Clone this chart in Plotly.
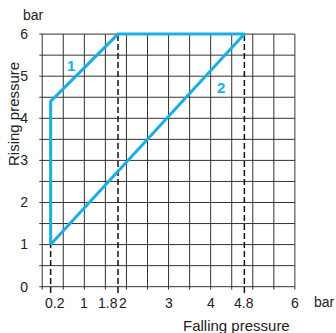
import plotly.graph_objects as go

# Data
curve_x = [0.2, 0.2, 1.8, 4.8, 0.2]
curve_y = [1.0, 4.4, 6.0, 6.0, 1.0]
dash_x = [0.2, 1.8, 4.8]
dash_top = [1.0, 6.0, 6.0]
x_tickvals = [0.2, 1, 1.8, 2, 3, 4, 4.8, 6]
x_ticktext = ["0.2", "1", "1.8", "2", "3", "4", "4.8", "6"]
y_tickvals = [0, 1, 2, 3, 4, 5, 6]
y_ticktext = ["0", "1", "2", "3", "4", "5", "6"]
curve_labels = ["1", "2"]
curve_label_x = [0.69, 4.24]
curve_label_y = [5.26, 4.74]

CYAN = "#1aade6"
GRID = "#333333"
TXT = "#222"
FONT = "Liberation Sans, Arial, sans-serif"
L, R, T, B = 38, 39, 32, 40
W, H = 336, 333

# hand-placed label nudges in the original (pixels), style only
label_shift = {"0.2": 4, "1.8": -10, "2": -3}

fig = go.Figure()

# grid (every 0.5)
steps = [i * 0.5 for i in range(13)]
gx, gy = [], []
for v in steps:
    gx += [v, v, None]
    gy += [-0.07, 6, None]
    gx += [-0.07, 6, None]
    gy += [v, v, None]
fig.add_trace(go.Scatter(x=gx, y=gy, mode="lines", line=dict(color=GRID, width=1),
                         hoverinfo="skip", showlegend=False))

# dashed reference lines
for xv, top in zip(dash_x, dash_top):
    fig.add_trace(go.Scatter(x=[xv, xv], y=[-0.15, top], mode="lines",
                             line=dict(color="#111", width=1.5, dash="6px,3px"),
                             hoverinfo="skip", showlegend=False))

# curve polygon
fig.add_trace(go.Scatter(x=curve_x, y=curve_y, mode="lines",
                         line=dict(color=CYAN, width=3), showlegend=False))

for t, xv, yv in zip(curve_labels, curve_label_x, curve_label_y):
    fig.add_annotation(x=xv, y=yv, text="<b>%s</b>" % t, showarrow=False,
                       xanchor="center", yanchor="middle",
                       font=dict(family=FONT, size=15, color=CYAN))

def px_x(xp):
    return (xp - L) / (W - L - R)

def px_y(yp):
    return 1 - (yp - T) / (H - T - B)

# x tick labels
for v, t in zip(x_tickvals, x_ticktext):
    fig.add_annotation(x=v, y=px_y(303), xref="x", yref="paper", text=t, showarrow=False,
                       xanchor="center", yanchor="middle", xshift=label_shift.get(t, 0),
                       font=dict(family=FONT, size=14, color=TXT))

def note(text, xp, yp, size=14, angle=0):
    fig.add_annotation(text=text, xref="paper", yref="paper", x=px_x(xp), y=px_y(yp),
                       xanchor="center", yanchor="middle", showarrow=False, textangle=angle,
                       font=dict(family=FONT, size=size, color=TXT))

note("bar", 324, 302)
note("bar", 33, 15)
note("Falling pressure", 236, 325, size=15)
note("Rising pressure", 13, 114, size=15, angle=-90)

fig.update_layout(
    width=W, height=H,
    margin=dict(l=L, r=R, t=T, b=B),
    paper_bgcolor="white", plot_bgcolor="white",
    font=dict(family=FONT, size=14, color=TXT),
    xaxis=dict(range=[-0.1, 6.05], showgrid=False, zeroline=False, showline=False,
               showticklabels=False, ticks="", automargin=False),
    yaxis=dict(range=[-0.15, 6.05], showgrid=False, zeroline=False, showline=False,
               tickmode="array", tickvals=y_tickvals, ticktext=y_ticktext, ticks="",
               automargin=False, ticklabelstandoff=9),
)

fig.write_html("out.html", config={"displayModeBar": False},
               post_script="document.body.style.margin='0';")
